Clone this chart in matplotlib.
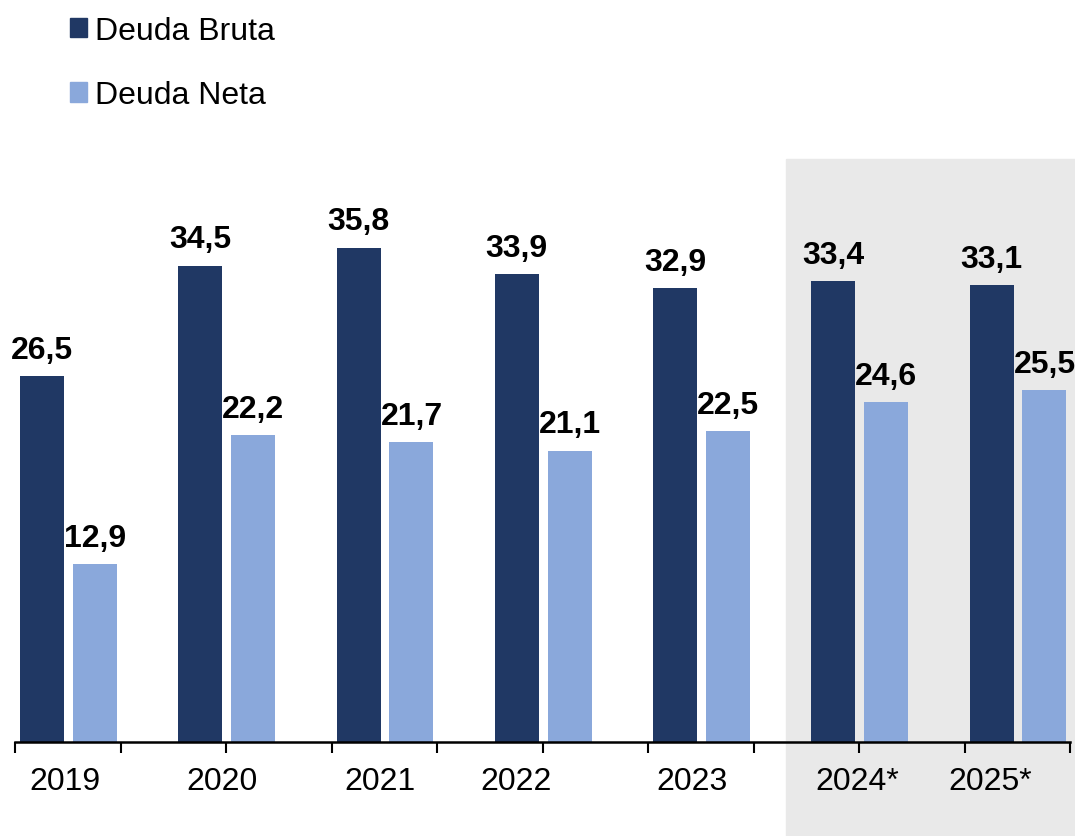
import matplotlib.pyplot as plt
from matplotlib.patches import Rectangle, Patch

plt.rcParams['font.family'] = ['Liberation Sans', 'DejaVu Sans']

# datos
anios = ['2019', '2020', '2021', '2022', '2023', '2024*', '2025*']
deuda_bruta = [26.5, 34.5, 35.8, 33.9, 32.9, 33.4, 33.1]
deuda_neta = [12.9, 22.2, 21.7, 21.1, 22.5, 24.6, 25.5]

color_bruta = '#203864'
color_neta = '#8AA8DB'

fig = plt.figure(figsize=(10.75, 8.37), dpi=100)
W, H = 1075, 837

# zona sombreada de proyecciones
fig.patches.append(Rectangle((786 / W, 0), 1 - 786 / W, 1 - 160 / H,
                             transform=fig.transFigure, color='#E9E9E9', zorder=-5))

ax = fig.add_axes([15 / W, 1 - 743 / H, (1070 - 15) / W, (743 - 160) / H])
ax.patch.set_alpha(0)
ax.set_zorder(1)

paso = 1.5
ancho = 0.417
x_bruta = [0.256 + paso * i for i in range(len(anios))]
x_neta = [0.758 + paso * i for i in range(len(anios))]

b1 = ax.bar(x_bruta, deuda_bruta, width=ancho, color=color_bruta, zorder=2)
b2 = ax.bar(x_neta, deuda_neta, width=ancho, color=color_neta, zorder=2)

for barras, vals in ((b1, deuda_bruta), (b2, deuda_neta)):
    for r, v in zip(barras, vals):
        ax.annotate(f'{v:.1f}'.replace('.', ','), (r.get_x() + r.get_width() / 2, v),
                    xytext=(0, 8), textcoords='offset points', ha='center', va='bottom',
                    fontsize=23, fontweight='bold')

ax.set_xlim(0, 10)
ax.set_ylim(0, (743 - 160) / 13.81)

# posiciones de las etiquetas del eje (como en el original, no regulares)
pos_etiquetas = [0.47, 1.96, 3.46, 4.75, 6.42, 7.98, 9.24]
ax.set_xticks(pos_etiquetas)
ax.set_xticklabels(anios, fontsize=23)
ax.tick_params(axis='x', which='major', length=0, pad=17)
ax.set_xticks(range(11), minor=True)
ax.tick_params(axis='x', which='minor', length=8, width=1.5, direction='out')

ax.set_yticks([])
for s in ('top', 'right', 'left'):
    ax.spines[s].set_visible(False)
ax.spines['bottom'].set_linewidth(1.8)

handles = [Patch(color=color_bruta, label='Deuda Bruta'),
           Patch(color=color_neta, label='Deuda Neta')]
fig.legend(handles=handles, loc='upper left', bbox_to_anchor=(41 / W, 1 + 12 / H),
           frameon=False, fontsize=23, handlelength=0.55, handleheight=0.55,
           handletextpad=0.25, labelspacing=1.08)

fig.savefig('out.png', dpi=100)
